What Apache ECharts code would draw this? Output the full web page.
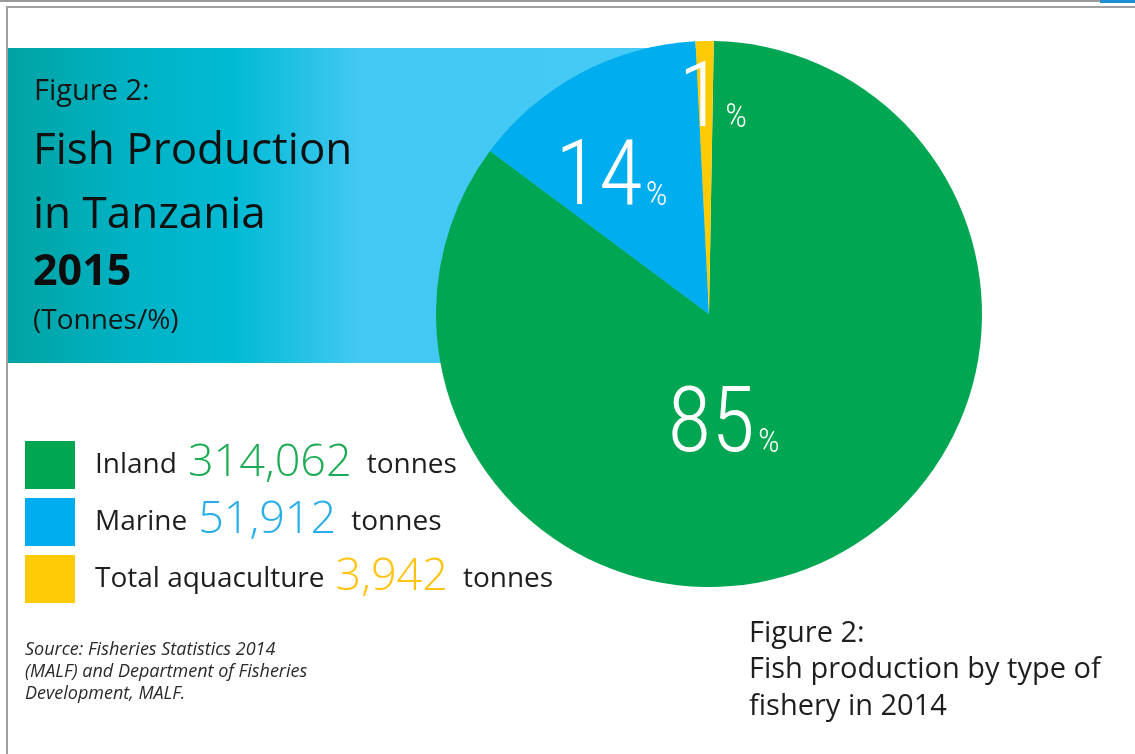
<!DOCTYPE html>
<html>
<head>
<meta charset="utf-8">
<script src="https://cdn.jsdelivr.net/npm/echarts@6/dist/echarts.min.js"></script>
<style>
html,body{margin:0;padding:0;background:#fff;}
#chart{width:1135px;height:754px;}
</style>
</head>
<body>
<div id="chart"></div>
<script>
// ---- data ----
const categories = ['Inland', 'Marine', 'Total aquaculture'];
const tonnes = [314062, 51912, 3942];
const colors = ['#00A651', '#00AEEF', '#FFCB05'];
const numberColors = ['#1EAB55', '#27AEE8', '#FFC20E'];
const titleLines = ['Figure 2:', 'Fish Production', 'in Tanzania', '2015', '(Tonnes/%)'];
const sourceLines = ['Source: Fisheries Statistics 2014', '(MALF) and Department of Fisheries', 'Development, MALF.'];
const captionLines = ['Figure 2:', 'Fish production by type of', 'fishery in 2014'];

const FONT = '"Open Sans", Lato, "Noto Sans", sans-serif';
const PCTFONT = '"Roboto Condensed", "Liberation Sans Narrow", "DejaVu Sans Condensed", Roboto, sans-serif';

const chart = echarts.init(document.getElementById('chart'), null, {renderer: 'canvas'});

const fmt = v => v.toLocaleString('en-US');
const richKeys = ['g', 'b', 'y'];
const legendRich = {
  t: {fontFamily: FONT, fontSize: 28, color: '#1e1e1e', lineHeight: 48, verticalAlign: 'middle'},
  sp: {fontFamily: FONT, fontSize: 28, lineHeight: 48, width: 15}
};
richKeys.forEach((k, i) => {
  legendRich[k] = {fontFamily: FONT, fontSize: 45, fontWeight: 300, color: numberColors[i], lineHeight: 32, verticalAlign: 'top', padding: [0, 15, 0, 11]};
});

const labelOffsets = [[-47, -12], [-32, -10], [6, -72]];

const graphics = [
  // top frame lines
  {type: 'rect', shape: {x: 0, y: 0, width: 1135, height: 2}, style: {fill: '#9a9a9a'}, z: 0},
  {type: 'rect', shape: {x: 1100, y: 0, width: 35, height: 3}, style: {fill: '#1E8FD5'}, z: 1},
  {type: 'rect', shape: {x: 6, y: 6, width: 1129, height: 2}, style: {fill: '#a0a0a0'}, z: 0},
  {type: 'rect', shape: {x: 6, y: 6, width: 2, height: 748}, style: {fill: '#a0a0a0'}, z: 0},
  // header band
  {type: 'rect', shape: {x: 8, y: 48, width: 700, height: 315}, z: 0,
   style: {fill: new echarts.graphic.LinearGradient(0, 0, 1, 0, [
     {offset: 0, color: '#00A3A2'},
     {offset: 0.18, color: '#00B3C6'},
     {offset: 0.32, color: '#00BAD3'},
     {offset: 0.5, color: '#42C8F3'},
     {offset: 1, color: '#46C9F6'}
   ])}},
  {type: 'text', left: 34, top: 77, z: 5, style: {text: titleLines[0], font: '29px ' + FONT, fill: '#161616'}},
  {type: 'text', left: 33, top: 129, z: 5, style: {text: titleLines[1], font: '44px ' + FONT, fill: '#111'}},
  {type: 'text', left: 33, top: 193, z: 5, style: {text: titleLines[2], font: '44px ' + FONT, fill: '#111'}},
  {type: 'text', left: 33, top: 251, z: 5, style: {text: titleLines[3], font: 'bold 43px ' + FONT, fill: '#0d0d0d'}},
  {type: 'text', left: 33, top: 307, z: 5, style: {text: titleLines[4], font: '28px ' + FONT, fill: '#161616'}},
  // source
  {type: 'text', left: 25, top: 639, z: 5, style: {text: sourceLines.join('\n'), font: 'italic 18px ' + FONT, lineHeight: 22, fill: '#2a2a2a'}},
  // caption
  {type: 'text', left: 749, top: 615, z: 5, style: {text: captionLines.join('\n'), font: '29px ' + FONT, lineHeight: 36.5, fill: '#1e1e1e'}}
];

const option = {
  backgroundColor: '#fff',
  animation: false,
  graphic: graphics,
  legend: {
    orient: 'vertical',
    left: 25,
    top: 441,
    padding: 0,
    itemWidth: 50,
    itemHeight: 48,
    itemGap: 9,
    icon: 'rect',
    selectedMode: false,
    data: categories,
    formatter: name => {
      const i = categories.indexOf(name);
      return `{sp|}{t|${name}}{${richKeys[i]}|${fmt(tonnes[i])}}{t|tonnes}`;
    },
    textStyle: {rich: legendRich, fontFamily: FONT}
  },
  series: [{
    type: 'pie',
    center: [709, 314],
    radius: [0, 273],
    startAngle: 89,
    clockwise: true,
    silent: true,
    data: categories.map((c, i) => ({name: c, value: tonnes[i], itemStyle: {color: colors[i]}})),
    label: {
      show: true,
      position: 'inside',
      formatter: p => `{n|${Math.round(p.percent)}}{p|%}`,
      rich: {
        n: {fontFamily: PCTFONT, fontWeight: 300, fontSize: 90, color: '#fff', lineHeight: 92, verticalAlign: 'bottom'},
        p: {fontFamily: PCTFONT, fontWeight: 300, fontSize: 34, color: '#fff', lineHeight: 36, verticalAlign: 'bottom', padding: [0, 0, 13, 3]}
      }
    },
    labelLayout: params => ({dx: labelOffsets[params.dataIndex][0], dy: labelOffsets[params.dataIndex][1]}),
    labelLine: {show: false},
    emphasis: {disabled: true}
  }]
};
chart.setOption(option);
</script>
</body>
</html>
